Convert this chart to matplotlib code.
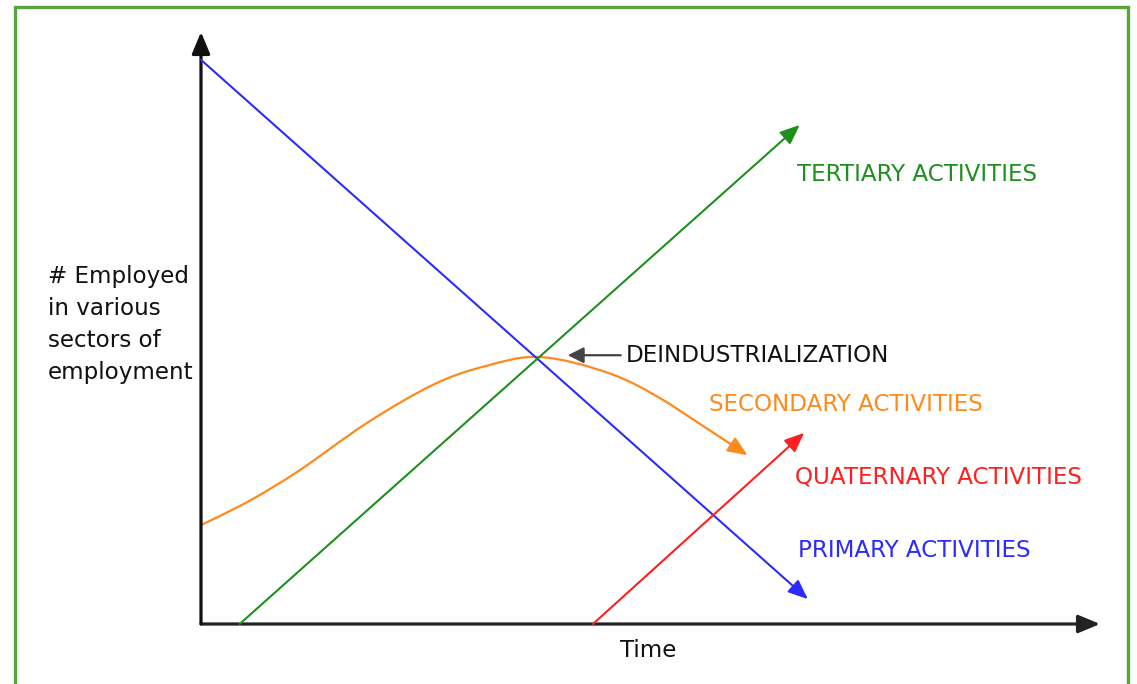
import matplotlib
matplotlib.use("Agg")
import matplotlib.pyplot as plt
from matplotlib.patches import Rectangle, PathPatch
from matplotlib.path import Path

# ---- data (axes scaled 0..100) ----
primary_x = [0.0, 67.5]
primary_y = [95.3, 4.2]

tertiary_x = [4.3, 66.6]
tertiary_y = [0.0, 84.3]

quaternary_x = [43.6, 67.1]
quaternary_y = [0.0, 32.3]

secondary_x = [0.0, 5.5, 11.0, 18.5, 25.8, 31.5, 37.7, 45.5, 52.0, 60.8]
secondary_y = [16.7, 20.9, 26.0, 34.0, 40.4, 43.5, 45.1, 42.3, 37.3, 28.5]

labels = ["TERTIARY ACTIVITIES", "SECONDARY ACTIVITIES",
          "QUATERNARY ACTIVITIES", "PRIMARY ACTIVITIES"]
deind_label = "DEINDUSTRIALIZATION"
deind_point = (37.2, 45.1)
x_label = "Time"
y_label = "# Employed\nin various\nsectors of\nemployment"

BLUE = "#2b2bff"
GREEN = "#1f8f1f"
ORANGE = "#ff8a1c"
RED = "#ff1f1f"

W, H = 1137, 684
fig = plt.figure(figsize=(W / 100, H / 100), dpi=100)
fig.patch.set_facecolor("white")

# green frame
fig.patches.append(Rectangle((15 / W, -0.05), (1128 - 15) / W, 1.05 - 7 / H,
                             transform=fig.transFigure, fill=False,
                             edgecolor="#5ba33b", linewidth=2.4))

ax = fig.add_axes([201 / W, (H - 624) / H, 899 / W, 592 / H])
ax.set_xlim(0, 100)
ax.set_ylim(0, 100)
ax.axis("off")

FS = 16.6
ahead = "-|>,head_length=0.6,head_width=0.25"

def arrow(x0, y0, x1, y1, color, lw, ms=20, style=ahead):
    ax.annotate("", xy=(x1, y1), xytext=(x0, y0), xycoords="data",
                textcoords="data",
                arrowprops=dict(arrowstyle=style, color=color, lw=lw,
                                shrinkA=0, shrinkB=0, mutation_scale=ms),
                annotation_clip=False)

# axes
arrow(0, 0, 100, 0, "#222222", 2.3, ms=22)
arrow(0, 0, 0, 100, "#111111", 2.3, ms=22)

# series
arrow(primary_x[0], primary_y[0], primary_x[1], primary_y[1], BLUE, 1.5)
arrow(tertiary_x[0], tertiary_y[0], tertiary_x[1], tertiary_y[1], GREEN, 1.5)
arrow(quaternary_x[0], quaternary_y[0], quaternary_x[1], quaternary_y[1], RED, 1.5)

# secondary: smooth Bezier path through the read points (Catmull-Rom control points)
pts = list(zip(secondary_x, secondary_y))
n = len(pts)
verts = [pts[0]]
codes = [Path.MOVETO]
for i in range(n - 2):
    p0 = pts[i - 1] if i > 0 else pts[i]
    p1 = pts[i]
    p2 = pts[i + 1]
    p3 = pts[i + 2]
    c1 = (p1[0] + (p2[0] - p0[0]) / 6, p1[1] + (p2[1] - p0[1]) / 6)
    c2 = (p2[0] - (p3[0] - p1[0]) / 6, p2[1] - (p3[1] - p1[1]) / 6)
    verts += [c1, c2, p2]
    codes += [Path.CURVE4, Path.CURVE4, Path.CURVE4]
ax.add_patch(PathPatch(Path(verts, codes), facecolor="none", edgecolor=ORANGE,
                       lw=1.6, capstyle="round"))
arrow(secondary_x[-2], secondary_y[-2], secondary_x[-1], secondary_y[-1],
      ORANGE, 1.6)

# labels
ax.text(66.3, 76.0, labels[0], color=GREEN, fontsize=FS, va="center", ha="left")
ax.text(56.5, 37.1, labels[1], color=ORANGE, fontsize=FS, va="center", ha="left")
ax.text(66.1, 24.8, labels[2], color=RED, fontsize=FS, va="center", ha="left")
ax.text(66.4, 12.4, labels[3], color=BLUE, fontsize=FS, va="center", ha="left")

ax.annotate(deind_label, xy=(deind_point[0] + 3.6, deind_point[1] + 0.3),
            xytext=(47.3, 45.4), textcoords="data", fontsize=FS,
            va="center", ha="left", color="#111111",
            arrowprops=dict(arrowstyle="-|>,head_length=0.6,head_width=0.3",
                            color="#444444", lw=1.6, shrinkA=2, shrinkB=0,
                            mutation_scale=16))

ax.text(49.7, -4.5, x_label, fontsize=FS, ha="center", va="center",
        color="#111111")
ax.text(-17.0, 50.6, y_label, fontsize=FS, ha="left", va="center",
        color="#111111", linespacing=1.5)

fig.savefig("out.png", dpi=100, facecolor="white")
